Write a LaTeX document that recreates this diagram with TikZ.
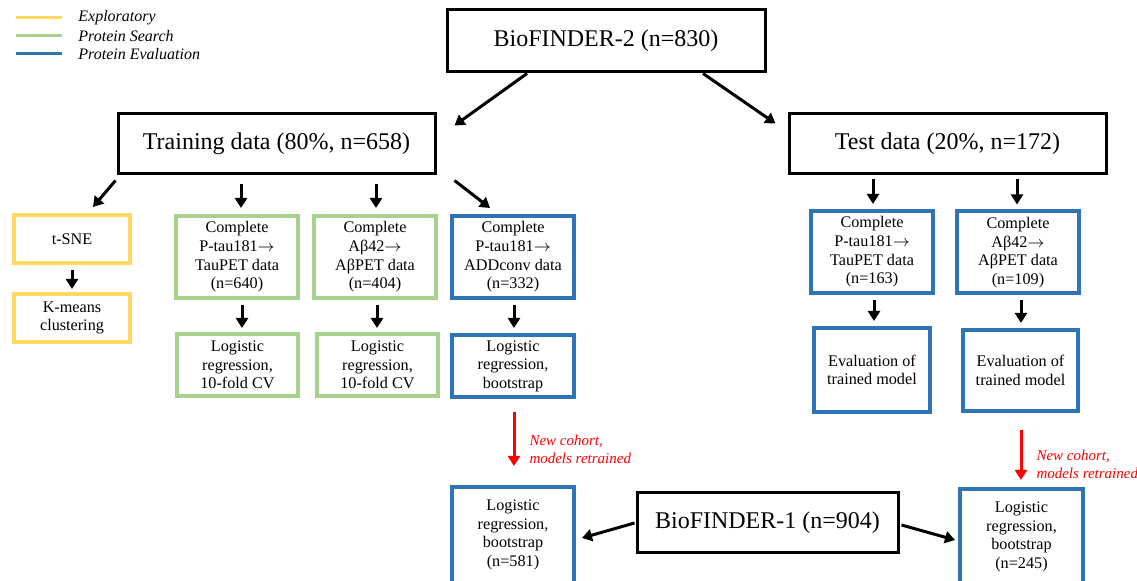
\documentclass[tikz,border=0pt]{standalone}
\usepackage{fontspec}
\setmainfont{Liberation Serif}
\usetikzlibrary{arrows.meta,calc}
\definecolor{jaune}{RGB}{255,217,102}
\definecolor{vert}{RGB}{169,209,142}
\definecolor{bleu}{RGB}{46,117,182}
\newcommand{\lp}{61pt}
\newcommand{\hp}{41pt}
\newcommand{\vers}{$\rightarrow$}
\tikzstyle{bord}=[draw=black, line width=1.5pt, inner sep=0pt, font=\fontsize{12}{14}\selectfont]
\tikzstyle{petit}=[line width=2pt, inner sep=0pt, align=center, font=\fontsize{8.1}{9.3}\selectfont]
\tikzstyle{explo}=[petit, draw=jaune]
\tikzstyle{cherche}=[petit, draw=vert]
\tikzstyle{evalu}=[petit, draw=bleu]
\tikzstyle{fleche}=[line width=1.5pt, -{Triangle[length=5pt,width=6pt]}]
\tikzstyle{flecherouge}=[fleche, red]
\tikzstyle{note}=[red, inner sep=0pt, align=left, font=\itshape\fontsize{7.5}{9}\selectfont]
\tikzstyle{legende}=[inner sep=0pt, font=\itshape\fontsize{8}{9}\selectfont]

\begin{document}
\begin{tikzpicture}[x=0.5pt, y=-0.5pt]

\useasboundingbox (0,0) rectangle (1137,581);

% legende
\foreach \c/\t [count=\i] in {jaune/Exploratory, vert/Protein Search, bleu/Protein Evaluation}
  {\draw[\c, line width=1.5pt] (16,18*\i) -- (62,18*\i);
  \node[legende, anchor=west] (leg\i) at (78,18*\i) {\t};
  }

% cohortes
\node[bord, minimum width=159pt, minimum height=31pt] (bf2) at (606,41) {BioFINDER-2 (n=830)};
\node[bord, minimum width=158.5pt, minimum height=30pt] (train) at (276.5,144) {Training data (80\%, n=658)};
\node[bord, minimum width=158.5pt, minimum height=30pt] (test) at (947.5,144) {Test data (20\%, n=172)};
\node[bord, minimum width=130.5pt, minimum height=30pt] (bf1) at (767.5,523) {BioFINDER-1 (n=904)};

% entrainement
\node[explo, minimum width=58pt, minimum height=24pt] (tsne) at (72,239) {t-SNE};
\node[explo, minimum width=58pt, minimum height=24pt] (kmeans) at (72,318) {K-means\\clustering};
\node[cherche, minimum width=\lp, minimum height=\hp] (ptau) at (237,257) {Complete\\P-tau181\vers\\TauPET data\\(n=640)};
\node[cherche, minimum width=\lp, minimum height=\hp] (abeta) at (375,257) {Complete\\Aβ42\vers\\AβPET data\\(n=404)};
\node[evalu, minimum width=\lp, minimum height=\hp] (addconv) at (513,257) {Complete\\P-tau181\vers\\ADDconv data\\(n=332)};
\node[cherche, minimum width=60.5pt, minimum height=31pt] (lr1) at (237.5,365) {Logistic\\regression,\\10-fold CV};
\node[cherche, minimum width=60.5pt, minimum height=31pt] (lr2) at (377.5,365) {Logistic\\regression,\\10-fold CV};
\node[evalu, minimum width=\lp, minimum height=31pt] (lr3) at (513,366) {Logistic\\regression,\\bootstrap};

% test
\node[evalu, minimum width=\lp, minimum height=\hp] (tptau) at (872,252) {Complete\\P-tau181\vers\\TauPET data\\(n=163)};
\node[evalu, minimum width=\lp, minimum height=\hp] (tabeta) at (1018,252.5) {Complete\\Aβ42\vers\\AβPET data\\(n=109)};
\node[evalu, minimum width=58pt, minimum height=42pt] (eval1) at (872,370) {Evaluation of\\trained model};
\node[evalu, minimum width=57.5pt, minimum height=40.5pt] (eval2) at (1020.5,370.5) {Evaluation of\\trained model};

% nouvelle cohorte
\node[evalu, minimum width=\lp, minimum height=48pt] (lrb1) at (513,535) {Logistic\\regression,\\bootstrap\\(n=581)};
\node[evalu, minimum width=61.5pt, minimum height=48pt] (lrb2) at (1021.5,537) {Logistic\\regression,\\bootstrap\\(n=245)};

% fleches
\draw[fleche] ($(bf2.south)+(-79,0)$) -- ($(train.north east)+(18,13)$);
\draw[fleche] ($(bf2.south)+(97,0)$) -- ($(test.north west)+(-12,11)$);
\draw[fleche] ($(train.south west)+(-1,5)$) -- ($(tsne.north)+(21,-6)$);
\draw[fleche] ($(ptau.north |- train.south)+(4,9)$) -- ($(ptau.north)+(4,-6)$);
\draw[fleche] ($(abeta.north |- train.south)+(1,9)$) -- ($(abeta.north)+(1,-6)$);
\draw[fleche] ($(train.south east)+(18,5)$) -- ($(addconv.north)+(-23,-6)$);
\draw[fleche] ($(tsne.south)+(0,5)$) -- ($(kmeans.north)+(0,-3)$);
\draw[fleche] ($(ptau.south)+(5,5)$) -- ($(lr1.north)+(4.5,-4)$);
\draw[fleche] ($(abeta.south)+(2,5)$) -- ($(lr2.north)+(-0.5,-4)$);
\draw[fleche] ($(addconv.south)+(1,5)$) -- ($(lr3.north)+(1,-5)$);
\draw[fleche] ($(tptau.north |- test.south)+(1,4)$) -- ($(tptau.north)+(1,-5)$);
\draw[fleche] ($(tabeta.north |- test.south)+(-1,4)$) -- ($(tabeta.north)+(-1,-5)$);
\draw[fleche] ($(tptau.south)+(2,5)$) -- ($(eval1.north)+(2,-5)$);
\draw[fleche] ($(tabeta.south)+(3,5)$) -- ($(eval2.north)+(0.5,-5)$);

\draw[flecherouge] ($(lr3.south)+(1,13)$) -- node[note, pos=0.7, anchor=west, xshift=7pt] (nc1) {New cohort,\\models retrained} ($(lrb1.north)+(1,-19)$);
\draw[flecherouge] ($(eval2.south)+(0.5,17)$) -- node[note, pos=0.68, anchor=west, xshift=7pt] (nc2) {New cohort,\\models retrained} ($(lrb2.north)+(-0.5,-7)$);

\draw[fleche] ($(bf1.west)+(-1,0)$) -- ($(lrb1.east)+(6,3)$);
\draw[fleche] ($(bf1.east)+(2,2)$) -- ($(lrb2.west)+(-3,3)$);

\end{tikzpicture}
\end{document}
